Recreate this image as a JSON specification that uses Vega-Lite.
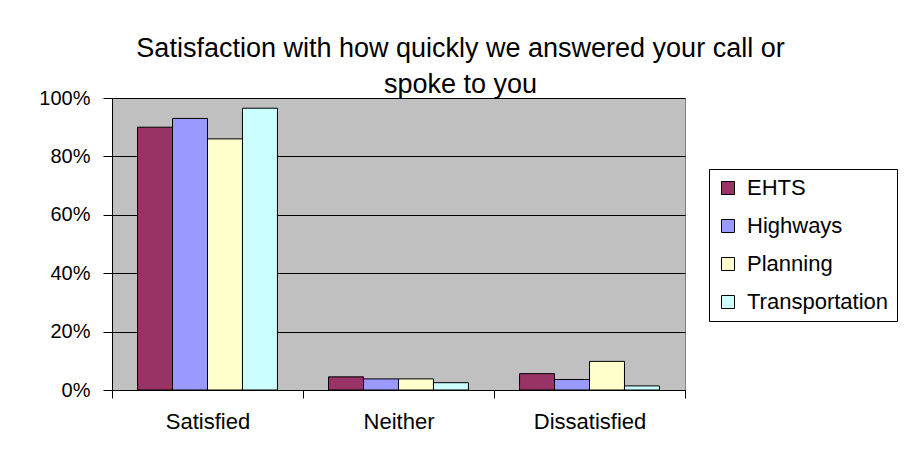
{
  "$schema": "https://vega.github.io/schema/vega-lite/v6.json",
  "autosize": {"type": "none"},
  "width": 573,
  "height": 292,
  "padding": {"left": 112, "top": 98, "right": 229, "bottom": 74},
  "background": "white",
  "title": {
    "text": ["Satisfaction with how quickly we answered your call or", "spoke to you"],
    "font": "Liberation Sans",
    "fontSize": 27,
    "fontWeight": "normal",
    "color": "black",
    "anchor": "middle",
    "frame": "group",
    "dx": 62,
    "dy": 38,
    "baseline": "bottom",
    "lineHeight": 36,
    "offset": 0
  },
  "data": {
    "values": [
      {"category": "Satisfied", "service": "EHTS", "value": 0.90},
      {"category": "Satisfied", "service": "Highways", "value": 0.93},
      {"category": "Satisfied", "service": "Planning", "value": 0.86},
      {"category": "Satisfied", "service": "Transportation", "value": 0.965},
      {"category": "Neither", "service": "EHTS", "value": 0.045},
      {"category": "Neither", "service": "Highways", "value": 0.038},
      {"category": "Neither", "service": "Planning", "value": 0.038},
      {"category": "Neither", "service": "Transportation", "value": 0.025},
      {"category": "Dissatisfied", "service": "EHTS", "value": 0.056},
      {"category": "Dissatisfied", "service": "Highways", "value": 0.036},
      {"category": "Dissatisfied", "service": "Planning", "value": 0.098},
      {"category": "Dissatisfied", "service": "Transportation", "value": 0.014}
    ]
  },
  "mark": {"type": "bar", "stroke": "black", "strokeWidth": 1},
  "encoding": {
    "x": {
      "field": "category",
      "type": "nominal",
      "sort": ["Satisfied", "Neither", "Dissatisfied"],
      "scale": {"paddingInner": 0, "paddingOuter": 0},
      "axis": {
        "title": null,
        "labelAngle": 0,
        "tickBand": "extent",
        "tickSize": 8,
        "tickColor": "black",
        "domainColor": "black",
        "labelFont": "Liberation Sans",
        "labelFontSize": 22,
        "labelColor": "black",
        "labelPadding": 13
      }
    },
    "xOffset": {
      "field": "service",
      "type": "nominal",
      "sort": ["EHTS", "Highways", "Planning", "Transportation"],
      "scale": {"paddingInner": 0, "paddingOuter": 0.73}
    },
    "y": {
      "field": "value",
      "type": "quantitative",
      "scale": {"domain": [0, 1], "nice": false},
      "axis": {
        "title": null,
        "format": "%",
        "values": [0, 0.2, 0.4, 0.6, 0.8, 1],
        "grid": true,
        "gridColor": "black",
        "gridOpacity": 1,
        "gridWidth": 1,
        "tickSize": 9,
        "tickColor": "black",
        "domainColor": "black",
        "labelFont": "Liberation Sans",
        "labelFontSize": 20,
        "labelColor": "black",
        "labelPadding": 13
      }
    },
    "color": {
      "field": "service",
      "type": "nominal",
      "sort": ["EHTS", "Highways", "Planning", "Transportation"],
      "scale": {
        "domain": ["EHTS", "Highways", "Planning", "Transportation"],
        "range": ["#993366", "#9999FF", "#FFFFCC", "#CCFFFF"]
      },
      "legend": {
        "title": null,
        "orient": "none",
        "legendX": 597,
        "legendY": 71,
        "strokeColor": "black",
        "fillColor": "white",
        "padding": 8,
        "symbolType": "square",
        "symbolSize": 169,
        "symbolStrokeColor": "black",
        "symbolStrokeWidth": 1,
        "symbolOpacity": 1,
        "labelFont": "Liberation Sans",
        "labelFontSize": 22,
        "labelColor": "black",
        "labelOffset": 8,
        "rowPadding": 16
      }
    }
  },
  "config": {
    "view": {"fill": "#C0C0C0", "stroke": "#808080", "strokeWidth": 1},
    "axis": {"domainWidth": 1, "tickWidth": 1}
  }
}
